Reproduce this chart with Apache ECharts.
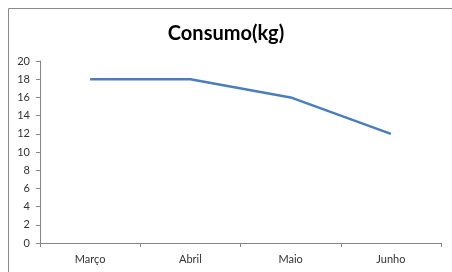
<!DOCTYPE html>
<html><head><meta charset="utf-8">
<script src="https://cdn.jsdelivr.net/npm/echarts@6/dist/echarts.min.js"></script>
<style>html,body{margin:0;padding:0;background:#fff}#c{width:452px;height:272px}</style>
</head><body><div id="c"></div>
<script>
const categories = ["Março", "Abril", "Maio", "Junho"];
const consumo = [18, 18, 16, 12];
const titleText = "Consumo(kg)";

const chart = echarts.init(document.getElementById('c'), null, {renderer: 'canvas'});
chart.setOption({
  animation: false,
  backgroundColor: '#fff',
  title: {
    text: titleText, left: 'center', top: 19,
    textStyle: {fontFamily: 'Lato', fontWeight: 'bold', fontSize: 20, color: '#000'}
  },
  graphic: [{
    type: 'rect', shape: {x: 8.5, y: 8.5, width: 460, height: 280},
    style: {fill: 'none', stroke: '#8a8a8a', lineWidth: 1}, silent: true, z: -1
  }],
  grid: {left: 40, right: 11, top: 61, bottom: 29, containLabel: false},
  xAxis: {
    type: 'category', data: categories, boundaryGap: true,
    axisLine: {lineStyle: {color: '#868686', width: 1}},
    axisTick: {show: true, length: 4, lineStyle: {color: '#868686'}},
    axisLabel: {fontFamily: 'Lato', fontSize: 11, color: '#333', margin: 11}
  },
  yAxis: {
    type: 'value', min: 0, max: 20, interval: 2,
    splitLine: {show: false},
    axisLine: {show: true, lineStyle: {color: '#868686', width: 1}},
    axisTick: {show: true, length: 4, lineStyle: {color: '#868686'}},
    axisLabel: {fontFamily: 'Lato', fontSize: 11, color: '#333', margin: 10}
  },
  series: [{
    type: 'line', data: consumo, showSymbol: false, symbol: 'none',
    lineStyle: {color: '#4a7ebb', width: 2.5}
  }]
});
</script></body></html>
